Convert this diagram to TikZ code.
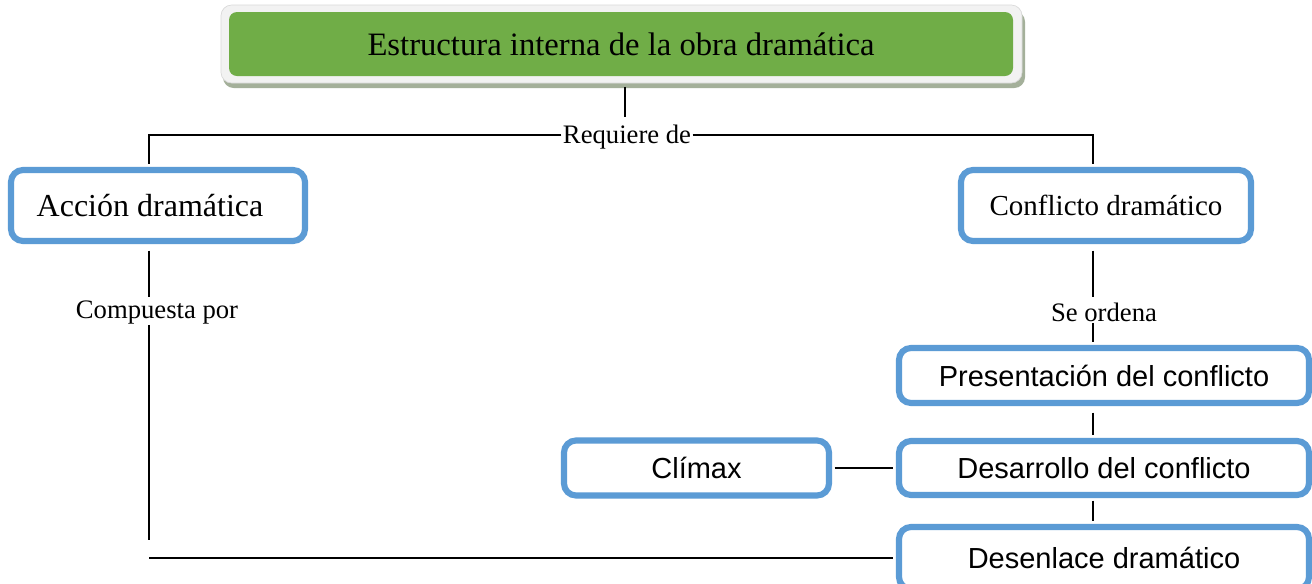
\documentclass[tikz,border=0pt]{standalone}
\usepackage{fontspec}
\setmainfont{Liberation Serif}
\newfontfamily\arialfont{Liberation Sans}
\usetikzlibrary{calc}
\definecolor{boxblue}{HTML}{5B9BD5}
\definecolor{titlegreen}{HTML}{70AD47}
\definecolor{framegray}{HTML}{F2F2F2}
\definecolor{frameedge}{HTML}{D9D9D9}
\definecolor{shadowgreen}{HTML}{A4B09A}
\begin{document}
\begin{tikzpicture}[x=0.75pt,y=-0.75pt,
  bluebox/.style={draw=boxblue, line width=4.6pt, rounded corners=9pt, fill=white, inner sep=0pt, align=center},
  sansbox/.style={bluebox, font=\arialfont\fontsize{21.75}{26}\selectfont},
  link/.style={draw=black, line width=1.1pt},
  lbl/.style={inner sep=0pt, font=\fontsize{20}{24}\selectfont}]
\path[use as bounding box, fill=white] (0,0) rectangle (1312,583);

% title with frame and shadow
\fill[shadowgreen, rounded corners=8pt] (223,11) rectangle (1025,88);
\filldraw[fill=framegray, draw=frameedge, line width=0.5pt, rounded corners=8pt] (221,5) rectangle (1022,83);
\node[fill=titlegreen, rounded corners=6pt, minimum width=588pt, minimum height=48pt, inner sep=0pt,
      font=\fontsize{24.5}{28}\selectfont] (title) at (621,44) {Estructura interna de la obra dramática};

% boxes
\node[bluebox, minimum width=220.5pt, minimum height=53.25pt, font=\fontsize{24}{28}\selectfont] (acc) at (158,205.5) {Acción dramática\hspace*{12pt}};
\node[bluebox, minimum width=217.5pt, minimum height=53.25pt, font=\fontsize{21.75}{26}\selectfont] (conf) at (1106,205.5) {Conflicto dramático};
\node[sansbox, minimum width=307.5pt, minimum height=41.25pt] (pres) at (1104,375.5) {Presentación del conflicto};
\node[sansbox, minimum width=307.5pt, minimum height=40.5pt] (desa) at (1104,468) {Desarrollo del conflicto};
\node[sansbox, minimum width=307.5pt, minimum height=46.5pt] (desen) at (1104,558) {Desenlace dramático};
\node[sansbox, minimum width=198.75pt, minimum height=41.25pt] (clim) at (696.5,468) {Clímax};

% labels
\node[lbl] (req) at (627,137) {Requiere de};
\node[lbl] (comp) at (157,313) {Compuesta por};
\node[lbl] (ord) at (1104,312) {Se ordena};

% helper coordinates
\coordinate (lx) at (149,135);
\coordinate (rx) at (1093,135);
\coordinate (lend) at (149,539);
\coordinate (lbot) at (149,558);

% connectors
\draw[link, shorten <=8pt, shorten >=6pt] (title.south -| 625,0) -- (req.north -| 625,0);
\draw[link, shorten <=1pt, shorten >=2pt] (req.west |- lx) -- (lx) -- (lx |- acc.north);
\draw[link, shorten <=1pt, shorten >=2pt] (req.east |- rx) -- (rx) -- (rx |- conf.north);
\draw[link, shorten <=5pt, shorten >=3pt] (lx |- acc.south) -- (lx |- comp.north);
\draw[link, shorten >=-1pt] (lx |- comp.south) -- (lend);
\draw[link, shorten >=2pt] (lbot) -- (lbot -| desen.west);
\draw[link, shorten <=5pt, shorten >=4pt] (rx |- conf.south) -- (rx |- ord.north);
\draw[link, shorten <=1pt, shorten >=2pt] (rx |- ord.south) -- (rx |- pres.north);
\draw[link, shorten <=5pt, shorten >=2pt] (rx |- pres.south) -- (rx |- desa.north);
\draw[link, shorten <=2pt, shorten >=2pt] (rx |- desa.south) -- (rx |- desen.north);
\draw[link, shorten <=2pt, shorten >=2pt] (clim.east) -- (clim.east -| desa.west);
\end{tikzpicture}
\end{document}
